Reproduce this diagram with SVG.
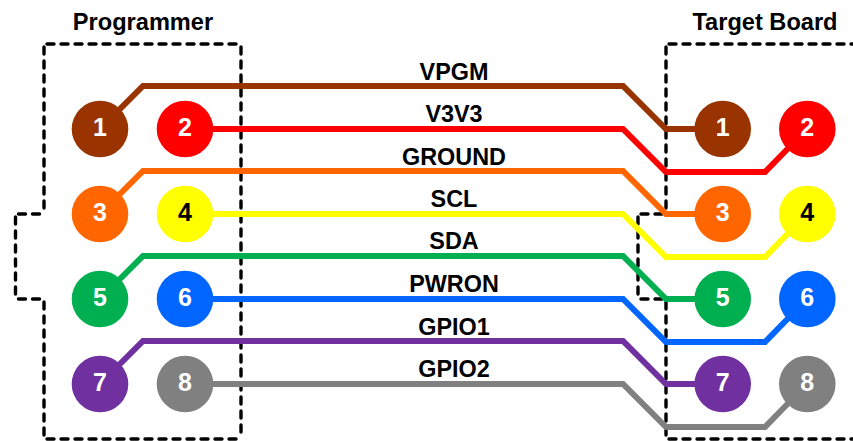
<svg xmlns="http://www.w3.org/2000/svg" width="853" height="441" viewBox="0 0 853 441">
<style>
text{font-family:"Liberation Sans",Arial,sans-serif;font-weight:bold;text-anchor:middle;fill:#000}
.t{font-size:23.600px}
.l{font-size:23.400px}
.n{font-size:25px;fill:#fff}
.k{font-size:25px;fill:#000}
.box{fill:none;stroke:#000;stroke-width:3.400;stroke-dasharray:7 7;stroke-dashoffset:-3;stroke-linecap:round}
.w{fill:none;stroke-width:6;stroke-linejoin:miter}
</style>
<rect width="853" height="441" fill="#fff"/>
<g id="boxes">
<path class="box" d="M44 44H241M241 44V439M44 44V214M15.500 214H44M15.500 214V299M15.500 299H44M44 299V439M44 439H241"/>
<path class="box" d="M666 44H853M666 44V214M638 214H666M638 214V299M638 299H666M666 299V439M666 439H853"/>
</g>
<text class="t" x="143" y="30">Programmer</text>
<text class="t" x="765" y="30">Target Board</text>
<g id="connectors">
<path class="w" stroke="#993300" d="M100 129L143 86H623L666 129H723"/>
<path class="w" stroke="#ff0000" d="M185 129H623L666 172H765L807 129"/>
<path class="w" stroke="#ff6600" d="M100 214L143 171H623L666 214H723"/>
<path class="w" stroke="#ffff00" d="M185 214H623L666 257H765L807 214"/>
<path class="w" stroke="#00b050" d="M100 299L143 256H623L666 299H723"/>
<path class="w" stroke="#0066ff" d="M185 299H623L666 342H765L807 299"/>
<path class="w" stroke="#7030a0" d="M100 384L143 341H623L666 384H723"/>
<path class="w" stroke="#808080" d="M185 384H623L666 427H765L807 384"/>
<text class="l" x="454" y="79.500">VPGM</text>
<text class="l" x="454" y="122">V3V3</text>
<text class="l" x="454" y="164.500">GROUND</text>
<text class="l" x="454" y="207">SCL</text>
<text class="l" x="454" y="249">SDA</text>
<text class="l" x="454" y="292">PWRON</text>
<text class="l" x="454" y="334.500">GPIO1</text>
<text class="l" x="454" y="377">GPIO2</text>
</g>
<g id="prog1"><circle cx="100" cy="129" r="28.300" fill="#993300"/><text class="n" x="100" y="136">1</text></g>
<g id="prog2"><circle cx="185" cy="129" r="28.300" fill="#ff0000"/><text class="n" x="185" y="136">2</text></g>
<g id="prog3"><circle cx="100" cy="214" r="28.300" fill="#ff6600"/><text class="n" x="100" y="221">3</text></g>
<g id="prog4"><circle cx="185" cy="214" r="28.300" fill="#ffff00"/><text class="k" x="185" y="221">4</text></g>
<g id="prog5"><circle cx="100" cy="299" r="28.300" fill="#00b050"/><text class="n" x="100" y="306">5</text></g>
<g id="prog6"><circle cx="185" cy="299" r="28.300" fill="#0066ff"/><text class="n" x="185" y="306">6</text></g>
<g id="prog7"><circle cx="100" cy="384" r="28.300" fill="#7030a0"/><text class="n" x="100" y="391">7</text></g>
<g id="prog8"><circle cx="185" cy="384" r="28.300" fill="#808080"/><text class="n" x="185" y="391">8</text></g>
<g id="tgt1"><circle cx="722.700" cy="129" r="28.300" fill="#993300"/><text class="n" x="722.700" y="136">1</text></g>
<g id="tgt2"><circle cx="807.300" cy="129" r="28.300" fill="#ff0000"/><text class="n" x="807.300" y="136">2</text></g>
<g id="tgt3"><circle cx="722.700" cy="214" r="28.300" fill="#ff6600"/><text class="n" x="722.700" y="221">3</text></g>
<g id="tgt4"><circle cx="807.300" cy="214" r="28.300" fill="#ffff00"/><text class="k" x="807.300" y="221">4</text></g>
<g id="tgt5"><circle cx="722.700" cy="299" r="28.300" fill="#00b050"/><text class="n" x="722.700" y="306">5</text></g>
<g id="tgt6"><circle cx="807.300" cy="299" r="28.300" fill="#0066ff"/><text class="n" x="807.300" y="306">6</text></g>
<g id="tgt7"><circle cx="722.700" cy="384" r="28.300" fill="#7030a0"/><text class="n" x="722.700" y="391">7</text></g>
<g id="tgt8"><circle cx="807.300" cy="384" r="28.300" fill="#808080"/><text class="n" x="807.300" y="391">8</text></g>
</svg>
